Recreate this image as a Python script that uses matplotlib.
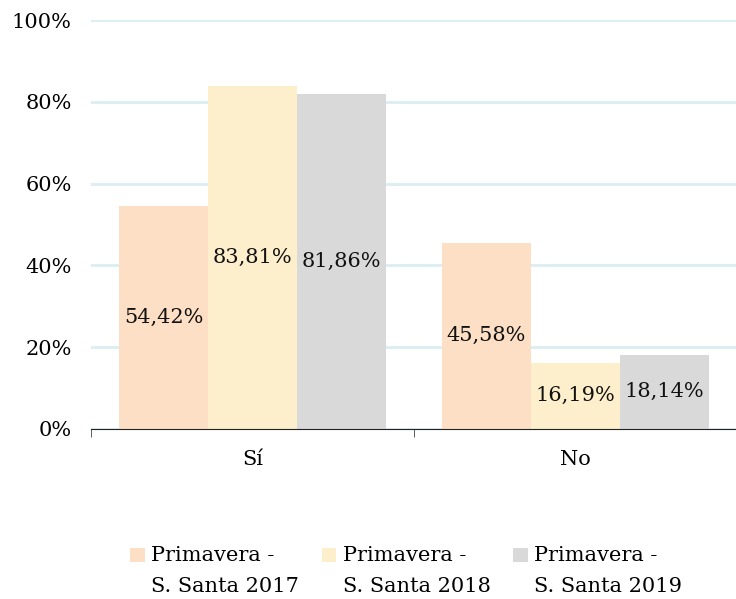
import numpy as np
import matplotlib.pyplot as plt
from matplotlib.ticker import FixedLocator
from matplotlib.legend_handler import HandlerPatch, update_from_first_child
from matplotlib.patches import Rectangle
from matplotlib.container import BarContainer

categories = ['Sí', 'No']
series_names = ['Primavera -\nS. Santa 2017', 'Primavera -\nS. Santa 2018', 'Primavera -\nS. Santa 2019']
values_2017 = [54.42, 45.58]
values_2018 = [83.81, 16.19]
values_2019 = [81.86, 18.14]
colors = ['#FDDFC5', '#FDEFCC', '#D9D9D9']
yticks = [0, 20, 40, 60, 80, 100]

plt.rcParams['font.family'] = ['DejaVu Serif']
FS = 15

fig = plt.figure(figsize=(7.36, 5.99), dpi=100)
ax = fig.add_axes([91 / 736, 1 - 429 / 599, (737 - 91) / 736, (429 - 20) / 599])

x = np.arange(len(categories))
w = 0.827 / 3
all_vals = [values_2017, values_2018, values_2019]
for i, (vals, name, c) in enumerate(zip(all_vals, series_names, colors)):
    bars = ax.bar(x + (i - 1) * w, vals, width=w, color=c, label=name, zorder=2)
    for b, v in zip(bars, vals):
        ax.text(b.get_x() + b.get_width() / 2, v / 2, f'{v:.2f}%'.replace('.', ','),
                ha='center', va='center', fontsize=FS, color='#111111', zorder=3)

ax.set_xlim(-0.5, 1.5)
ax.set_ylim(0, 100)
ax.set_yticks(yticks)
ax.set_yticklabels([f'{t}%' for t in yticks], fontsize=FS)
ax.yaxis.grid(True, color='#DAEEF3', linewidth=2, zorder=0)
ax.set_axisbelow(True)
ax.tick_params(axis='y', length=0, pad=14)

ax.set_xticks(x)
ax.set_xticklabels(categories, fontsize=FS)
ax.xaxis.set_minor_locator(FixedLocator([-0.5, 0.5, 1.5]))
ax.tick_params(axis='x', which='major', length=0, pad=15)
ax.tick_params(axis='x', which='minor', length=6, color='#444444')

for s in ['top', 'right', 'left']:
    ax.spines[s].set_visible(False)
ax.spines['bottom'].set_color('#222222')


# legend square next to the first line of the label
def top_square(legend, orig_handle, xdescent, ydescent, width, height, fontsize):
    return Rectangle((-xdescent, -ydescent + 11.5), width, height)


leg = ax.legend(loc='upper center', bbox_to_anchor=(0.488, -0.265), ncol=3, frameon=False,
                fontsize=FS, handlelength=0.7, handleheight=0.7, handletextpad=0.3,
                columnspacing=1.1, borderaxespad=0,
                handler_map={BarContainer: HandlerPatch(patch_func=top_square,
                                                        update_func=update_from_first_child)})
for t in leg.get_texts():
    t.set_linespacing(1.8)

fig.savefig('out.png', dpi=100)
